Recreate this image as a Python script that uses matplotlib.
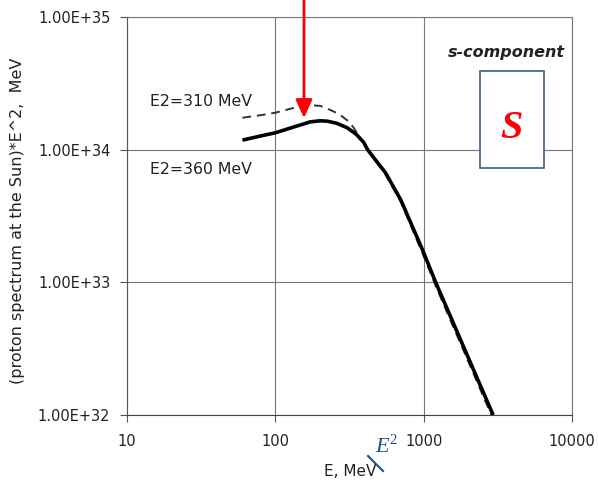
import matplotlib
matplotlib.use("Agg")
import matplotlib.pyplot as plt
from matplotlib.ticker import FixedLocator, FuncFormatter
from matplotlib.patches import Rectangle
from matplotlib.lines import Line2D

# Data
E_solid = [60, 80, 100, 130, 172, 200, 224, 260, 306, 350, 393, 419, 480, 553, 700, 984, 1205, 2940]
V_solid = [1.18e34, 1.27e34, 1.34e34, 1.47e34, 1.62e34, 1.65e34, 1.64e34, 1.58e34, 1.46e34, 1.31e34,
           1.14e34, 1.0e34, 8.2e33, 6.7e33, 4.2e33, 1.75e33, 1.0e33, 1.0e32]

E_dash = [60, 80, 100, 130, 164, 200, 233, 270, 304, 335, 362, 393, 419, 553, 700, 984, 1205, 2940]
V_dash = [1.74e34, 1.82e34, 1.9e34, 2.05e34, 2.17e34, 2.14e34, 2.0e34, 1.85e34, 1.67e34, 1.48e34,
          1.29e34, 1.14e34, 0.99e34, 6.5e33, 4.05e33, 1.65e33, 0.94e33, 0.93e32]

x_ticks = [10, 100, 1000, 10000]
x_labels = ["10", "100", "1000", "10000"]
y_ticks = [1e32, 1e33, 1e34, 1e35]
y_labels = ["1.00E+32", "1.00E+33", "1.00E+34", "1.00E+35"]

arrow_E = 156
arrow_tip = 1.73e34

fig = plt.figure(figsize=(5.98, 4.84), dpi=100)
ax = fig.add_axes([127/598, 1-415/484, 445/598, 398/484])
ax.set_xscale("log")
ax.set_yscale("log")
ax.set_xlim(10, 10000)
ax.set_ylim(1e32, 1e35)

ax.plot(E_dash, V_dash, color="#333333", lw=1.4, ls=(0, (4.5, 3)), zorder=3)
ax.plot(E_solid, V_solid, color="black", lw=2.6, zorder=4, solid_capstyle="butt", solid_joinstyle="round")

ax.xaxis.set_major_locator(FixedLocator(x_ticks))
ax.xaxis.set_major_formatter(FuncFormatter(lambda v, p: x_labels[x_ticks.index(v)] if v in x_ticks else ""))
ax.yaxis.set_major_locator(FixedLocator(y_ticks))
ax.yaxis.set_major_formatter(FuncFormatter(lambda v, p: y_labels[min(range(4), key=lambda i: abs(y_ticks[i]/v-1))]))
ax.minorticks_off()
ax.tick_params(axis="both", which="major", direction="out", length=5, width=0.8,
               color="#555555", labelsize=10.5, labelcolor="#222222")
ax.tick_params(axis="x", pad=9)
ax.tick_params(axis="y", pad=7)
ax.grid(True, which="major", color="#777777", lw=0.8)
for s in ax.spines.values():
    s.set_color("#777777")
    s.set_linewidth(0.8)
ax.spines["left"].set_color("#555555")
ax.spines["bottom"].set_color("#444444")

ax.text(150/598, 1-102/484, "E2=310 MeV", transform=fig.transFigure, fontsize=11.3,
        color="#222222", va="center", ha="left")
ax.text(150/598, 1-170/484, "E2=360 MeV", transform=fig.transFigure, fontsize=11.3,
        color="#222222", va="center", ha="left")
fig.text(565/598, 1-52/484, "s-component", fontsize=11.5, fontweight="bold",
         style="italic", color="#222222", ha="right", va="center")

fig.patches.append(Rectangle((480/598, 1-168/484), 64/598, 97/484, transform=fig.transFigure,
                             fill=True, facecolor="white", edgecolor="#3b5d88", lw=1.2, zorder=5))
fig.text(511/598, 1-129/484, "S", fontsize=29, family="Liberation Serif", style="italic",
         fontweight="bold", color="#ff0000", ha="center", va="center", zorder=6)

ax.annotate("", xy=(arrow_E, arrow_tip), xytext=(arrow_E, 10**(35 + 17/132.7)),
            arrowprops=dict(arrowstyle="-|>,head_length=1.1,head_width=0.5", color="#ff0000",
                            lw=2, shrinkA=0, shrinkB=0),
            annotation_clip=False, zorder=7)

fig.text(18/598, 1-221/484, "(proton spectrum at the Sun)*E^2,  MeV", rotation=90,
         fontsize=11.5, color="#222222", ha="center", va="center")
fig.text(350/598, 1-471/484, "E, MeV", fontsize=11, color="#222222", ha="center", va="center")

fig.text(375/598, 1-447/484, "E", fontsize=16, family="Liberation Serif", style="italic",
         color="#1f4e8c", ha="left", va="center")
fig.text(389/598, 1-441/484, "2", fontsize=10.5, family="Liberation Serif",
         color="#1f4e8c", ha="left", va="center")
fig.lines.append(Line2D([368/598, 383/598], [1-456/484, 1-471/484], transform=fig.transFigure,
                        color="#1f4e8c", lw=1.5))

fig.savefig("out.png", dpi=100)
